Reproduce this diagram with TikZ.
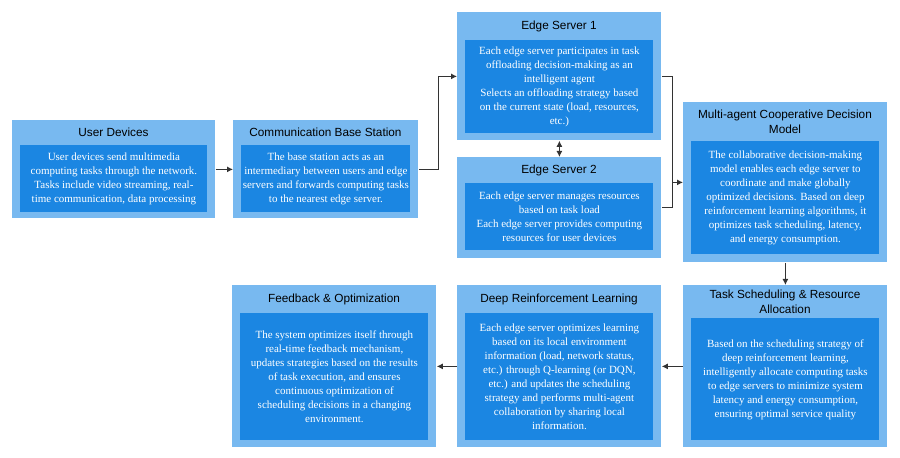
\documentclass[tikz,border=0pt]{standalone}
\usepackage{fontspec}
\setmainfont{Liberation Serif}
\newfontfamily\ttl{Liberation Sans}
\usetikzlibrary{arrows.meta}
\definecolor{outc}{HTML}{78B9F0}
\definecolor{inc}{HTML}{1B86E2}
\begin{document}
\begin{tikzpicture}[x=0.5pt,y=-0.5pt,
 outer/.style={draw=none,fill=outc,inner sep=0,anchor=north west},
 inner/.style={fill=inc,draw=none,inner sep=0,anchor=north west},
 body/.style={text=white,align=center,font=\fontsize{5.5}{7}\selectfont,inner sep=0},
 ttl/.style={font=\ttl\fontsize{5.9}{7.6}\selectfont,align=center},
 ar/.style={draw=black!80,line width=0.5pt,-{Latex[length=3pt,width=3pt]}}]
\useasboundingbox (0,0) rectangle (900,458);
\fill[white] (0,0) rectangle (900,458);
\newcommand\mybox[9]{% name x1 y1 x2 y2 iy1 iy2 title text
 \node[outer,minimum width={(#4-#2)*0.5pt},minimum height={(#5-#3)*0.5pt}] (#1) at (#2,#3) {};
 \node[inner,minimum width={(#4-#2-16)*0.5pt},minimum height={(#7-#6)*0.5pt}] (#1i) at (#2+8,#6) {};
 \node[body] at (#1i.center) {#9};
 \node[ttl] at ({(#2+#4)/2},{(#3+#6)/2}) {#8};}
\mybox{ud}{12}{120}{215}{218}{145}{212}{User Devices}{User devices send multimedia\\computing tasks through the network.\\Tasks include video streaming, real-\\time communication, data processing}
\mybox{cbs}{233}{120}{418}{218}{145}{212}{Communication Base Station}{The base station acts as an\\intermediary between users and edge\\servers and forwards computing tasks\\to the nearest edge server.}
\mybox{es1}{457}{12}{661}{140}{40}{133}{Edge Server 1}{Each edge server participates in task\\offloading decision-making as an\\intelligent agent\\Selects an offloading strategy based\\on the current state (load, resources,\\etc.)}
\mybox{es2}{457}{157}{661}{258}{183}{250}{Edge Server 2}{Each edge server manages resources\\based on task load\\Each edge server provides computing\\resources for user devices}
\mybox{ma}{683}{102}{887}{262}{141}{254}{Multi-agent Cooperative Decision\\Model}{The collaborative decision-making\\model enables each edge server to\\coordinate and make globally\\optimized decisions. Based on deep\\reinforcement learning algorithms, it\\optimizes task scheduling, latency,\\and energy consumption.}
\mybox{ts}{683}{285}{887}{447}{318}{440}{Task Scheduling \& Resource\\Allocation}{Based on the scheduling strategy of\\deep reinforcement learning,\\intelligently allocate computing tasks\\to edge servers to minimize system\\latency and energy consumption,\\ensuring optimal service quality}
\mybox{drl}{457}{285}{661}{447}{313}{440}{Deep Reinforcement Learning}{Each edge server optimizes learning\\based on its local environment\\information (load, network status,\\etc.) through Q-learning (or DQN,\\etc.) and updates the scheduling\\strategy and performs multi-agent\\collaboration by sharing local\\information.}
\mybox{fb}{232}{285}{436}{447}{313}{440}{Feedback \& Optimization}{The system optimizes itself through\\real-time feedback mechanism,\\updates strategies based on the results\\of task execution, and ensures\\continuous optimization of\\scheduling decisions in a changing\\environment.}
\draw[ar] (ud.east) -- (cbs.west);
\draw[ar] (cbs.east) -- ++(20,0) |- (es1.west);
\draw[ar] (es1.east) -- ++(11,0) |- (ma.west);
\draw[draw=black!80,line width=0.5pt] (es2.east) -- ++(11,0) -- ++(0,-30);
\draw[draw=black!80,line width=0.5pt,{Latex[length=3pt,width=3pt]}-{Latex[length=3pt,width=3pt]}] (es1.south) -- (es2.north);
\draw[ar] (ma.south) -- (ts.north);
\draw[ar] (ts.west) -- (drl.east);
\draw[ar] (drl.west) -- (fb.east);
\end{tikzpicture}
\end{document}
